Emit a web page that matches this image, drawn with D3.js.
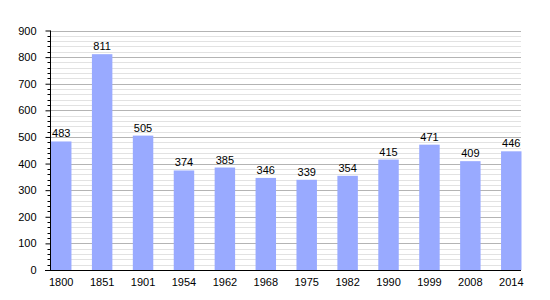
<!DOCTYPE html>
<html>
<head>
<meta charset="utf-8">
<script src="https://cdn.jsdelivr.net/npm/d3@7"></script>
<style>
  body { margin: 0; background: #fff; }
  text { font-family: "Liberation Sans", Arial, sans-serif; font-size: 11px; fill: #000; }
</style>
</head>
<body>
<div id="chart"></div>
<script>
const years = ["1800", "1851", "1901", "1954", "1962", "1968", "1975", "1982", "1990", "1999", "2008", "2014"];
const population = [483, 811, 505, 374, 385, 346, 339, 354, 415, 471, 409, 446];
const yTicks = [0, 100, 200, 300, 400, 500, 600, 700, 800, 900];

const width = 550, height = 300;
const plotLeft = 50, plotRight = 521, plotTop = 30.5, plotBottom = 270;
const barColor = "#99aaff";

const svg = d3.select("#chart").append("svg")
    .attr("width", width)
    .attr("height", height);

const x = d3.scaleBand()
    .domain(years)
    .range([plotLeft + 1, plotRight + 0.5])
    .paddingInner(0.5)
    .paddingOuter(0);

const y = d3.scaleLinear()
    .domain([0, 900])
    .range([plotBottom, plotTop]);

// minor grid every 20
const minor = d3.range(20, 900, 20).filter(v => v % 100 !== 0);
svg.append("g").selectAll("line").data(minor).join("line")
    .attr("x1", plotLeft).attr("x2", plotRight)
    .attr("y1", d => Math.round(y(d)) + 0.5).attr("y2", d => Math.round(y(d)) + 0.5)
    .attr("stroke", "#e2e2e2");

// major grid every 100
svg.append("g").selectAll("line").data(yTicks.slice(1)).join("line")
    .attr("x1", plotLeft).attr("x2", plotRight)
    .attr("y1", d => Math.round(y(d)) + 0.5).attr("y2", d => Math.round(y(d)) + 0.5)
    .attr("stroke", "#b4b4b4");

// bars
svg.append("g").selectAll("rect").data(population).join("rect")
    .attr("x", (d, i) => x(years[i]))
    .attr("width", x.bandwidth())
    .attr("y", d => y(d))
    .attr("height", d => y(0) - y(d))
    .attr("fill", barColor);

// value labels
svg.append("g").selectAll("text").data(population).join("text")
    .attr("x", (d, i) => x(years[i]) + x.bandwidth() / 2)
    .attr("y", d => y(d) - 4)
    .attr("text-anchor", "middle")
    .text(d => d);

// y axis with minor ticks
const yAxis = svg.append("g")
    .attr("transform", `translate(${plotLeft + 0.5},0)`);
yAxis.call(d3.axisLeft(y).tickValues(yTicks).tickSize(5).tickPadding(9));
yAxis.append("g").selectAll("line").data(minor).join("line")
    .attr("x1", -3).attr("x2", 0)
    .attr("y1", d => Math.round(y(d)) + 0.5).attr("y2", d => Math.round(y(d)) + 0.5)
    .attr("stroke", "#000");
yAxis.select(".domain").attr("d", `M0,${plotTop}V${plotBottom}`);
yAxis.selectAll("text").style("font-size", "11px").style("font-family", "Liberation Sans, Arial, sans-serif");

// x axis
const xAxis = svg.append("g")
    .attr("transform", `translate(0,${plotBottom + 0.5})`);
xAxis.call(d3.axisBottom(x).tickSize(0).tickPadding(8));
xAxis.select(".domain").attr("d", `M${plotLeft - 5},0H${plotRight}`);
xAxis.selectAll("text").style("font-size", "11px").style("font-family", "Liberation Sans, Arial, sans-serif");
</script>
</body>
</html>
